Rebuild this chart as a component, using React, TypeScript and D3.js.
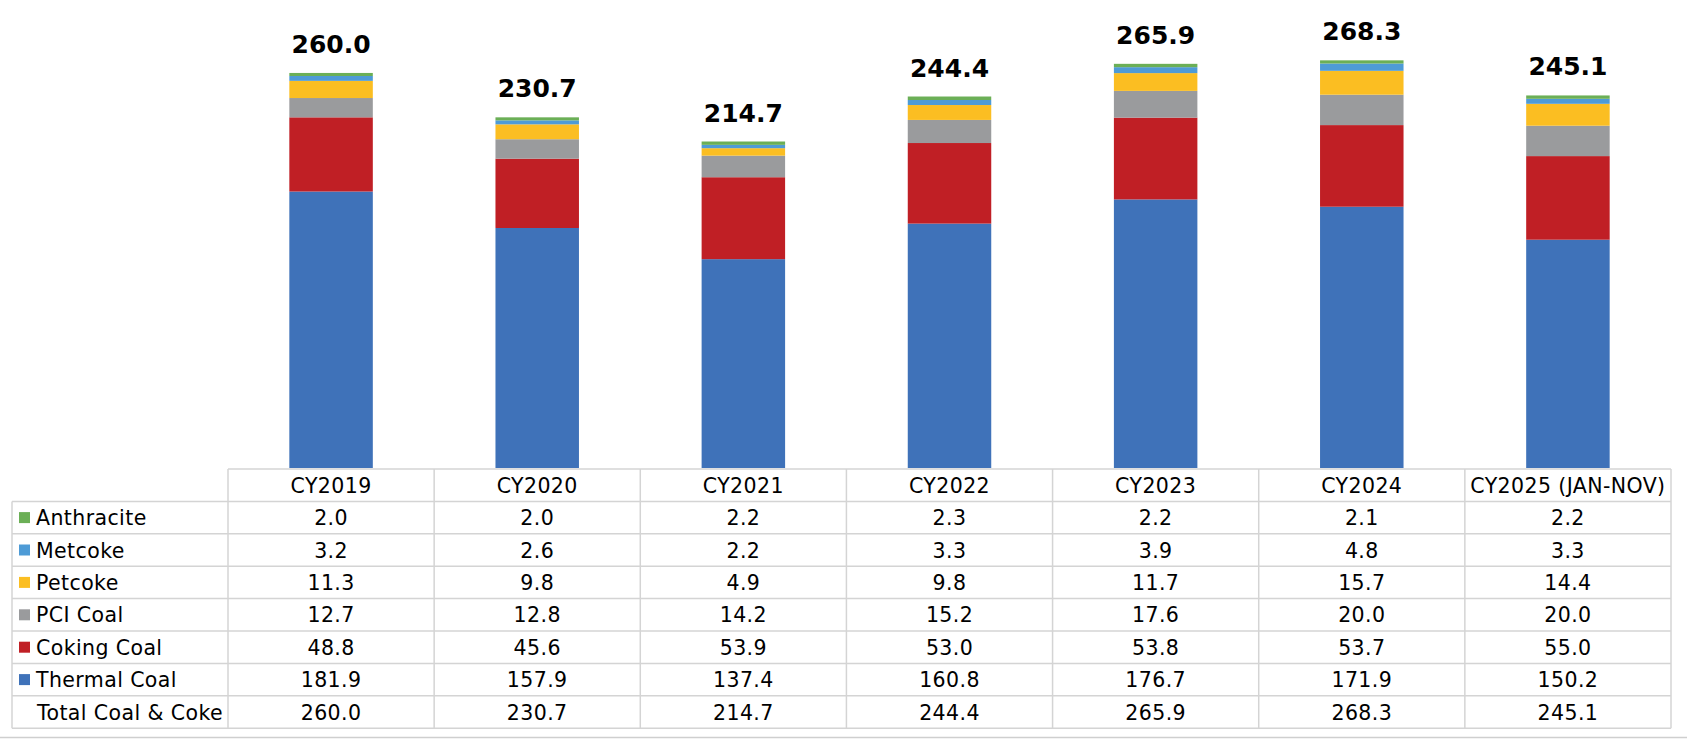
import React, { useEffect, useRef } from 'react';
import * as d3 from 'd3';

const years = ['CY2019', 'CY2020', 'CY2021', 'CY2022', 'CY2023', 'CY2024', 'CY2025 (JAN-NOV)'];
const thermalCoal = [181.9, 157.9, 137.4, 160.8, 176.7, 171.9, 150.2];
const cokingCoal = [48.8, 45.6, 53.9, 53.0, 53.8, 53.7, 55.0];
const pciCoal = [12.7, 12.8, 14.2, 15.2, 17.6, 20.0, 20.0];
const petcoke = [11.3, 9.8, 4.9, 9.8, 11.7, 15.7, 14.4];
const metcoke = [3.2, 2.6, 2.2, 3.3, 3.9, 4.8, 3.3];
const anthracite = [2.0, 2.0, 2.2, 2.3, 2.2, 2.1, 2.2];
const totals = [260.0, 230.7, 214.7, 244.4, 265.9, 268.3, 245.1];

// stacking order bottom -> top
const series = [
  { name: 'Thermal Coal', values: thermalCoal, color: '#3F72B9' },
  { name: 'Coking Coal', values: cokingCoal, color: '#C01F25' },
  { name: 'PCI Coal', values: pciCoal, color: '#9A9B9D' },
  { name: 'Petcoke', values: petcoke, color: '#FBBE22' },
  { name: 'Metcoke', values: metcoke, color: '#4E9BD6' },
  { name: 'Anthracite', values: anthracite, color: '#6BAF56' },
];

const W = 1687;
const H = 739;
const FONT = '"DejaVu Sans", Verdana, sans-serif';

const App = () => {
  const ref = useRef(null);

  useEffect(() => {
    const svg = d3.select(ref.current);
    svg.selectAll('*').remove();

    const tableLeft = 12;
    const colStart = 228;
    const colEnd = 1671;
    const tableTop = 469;
    const rowH = 32.4;

    const x = d3.scaleBand().domain(years).range([colStart, colEnd]).paddingInner(0).paddingOuter(0);
    const bw = x.bandwidth() * 0.405;
    const y = d3.scaleLinear().domain([0, 300]).range([468, 12]);

    const rows = years.map((yr, i) => {
      const r: any = { year: yr };
      series.forEach((s) => (r[s.name] = s.values[i]));
      return r;
    });
    const stack = d3.stack().keys(series.map((s) => s.name));
    const stacked = stack(rows);

    const g = svg.append('g');
    stacked.forEach((layer, li) => {
      g.selectAll(null)
        .data(layer)
        .enter()
        .append('rect')
        .attr('x', (d: any) => x(d.data.year)! + (x.bandwidth() - bw) / 2)
        .attr('width', bw)
        .attr('y', (d) => y(d[1]))
        .attr('height', (d) => y(d[0]) - y(d[1]))
        .attr('fill', series[li].color);
    });

    // total labels
    svg
      .selectAll('.tot')
      .data(totals)
      .enter()
      .append('text')
      .attr('x', (d, i) => x(years[i])! + x.bandwidth() / 2)
      .attr('y', (d) => y(d) - 20)
      .attr('text-anchor', 'middle')
      .style('font-family', FONT)
      .style('font-weight', 'bold')
      .style('font-size', '25px')
      .style('fill', '#000')
      .text((d) => d.toFixed(1));

    // table
    const gridColor = '#D4D4D4';
    const tableRows = [...series].reverse();
    const nRows = tableRows.length + 1; // + total row
    const bottom = tableTop + rowH * (nRows + 1);
    const t = svg.append('g');

    // horizontal lines
    t.append('line')
      .attr('x1', colStart).attr('x2', colEnd)
      .attr('y1', tableTop).attr('y2', tableTop)
      .attr('stroke', gridColor).attr('stroke-width', 1.5);
    for (let r = 1; r <= nRows + 1; r++) {
      const yy = tableTop + rowH * r;
      t.append('line')
        .attr('x1', tableLeft).attr('x2', colEnd)
        .attr('y1', yy).attr('y2', yy)
        .attr('stroke', gridColor).attr('stroke-width', 1.5);
    }
    // vertical lines
    t.append('line')
      .attr('x1', tableLeft).attr('x2', tableLeft)
      .attr('y1', tableTop + rowH).attr('y2', bottom)
      .attr('stroke', gridColor).attr('stroke-width', 1.5);
    [...years.map((yr) => x(yr)!), colEnd].forEach((xx) => {
      t.append('line')
        .attr('x1', xx).attr('x2', xx)
        .attr('y1', tableTop).attr('y2', bottom)
        .attr('stroke', gridColor).attr('stroke-width', 1.5);
    });

    const textStyle = (sel) =>
      sel
        .style('font-family', FONT)
        .style('font-size', '20.5px')
        .style('letter-spacing', '0.4px')
        .style('fill', '#000');

    // header
    years.forEach((yr) => {
      t.append('text')
        .attr('x', x(yr)! + x.bandwidth() / 2)
        .attr('y', tableTop + rowH / 2 + 7.5)
        .attr('text-anchor', 'middle')
        .call(textStyle)
        .text(yr);
    });

    tableRows.forEach((s, ri) => {
      const cy = tableTop + rowH * (ri + 1) + rowH / 2;
      t.append('rect')
        .attr('x', 19).attr('y', cy - 5.5)
        .attr('width', 11).attr('height', 11)
        .attr('fill', s.color);
      t.append('text')
        .attr('x', 36).attr('y', cy + 7.5)
        .call(textStyle)
        .text(s.name);
      s.values.forEach((v, i) => {
        t.append('text')
          .attr('x', x(years[i])! + x.bandwidth() / 2)
          .attr('y', cy + 7.5)
          .attr('text-anchor', 'middle')
          .call(textStyle)
          .text(v.toFixed(1));
      });
    });

    const cyT = tableTop + rowH * nRows + rowH / 2;
    t.append('text')
      .attr('x', 37).attr('y', cyT + 7.5)
      .call(textStyle)
      .text('Total Coal & Coke');
    totals.forEach((v, i) => {
      t.append('text')
        .attr('x', x(years[i])! + x.bandwidth() / 2)
        .attr('y', cyT + 7.5)
        .attr('text-anchor', 'middle')
        .call(textStyle)
        .text(v.toFixed(1));
    });

    // outer frame line at bottom
    svg.append('line')
      .attr('x1', 0).attr('x2', W)
      .attr('y1', 737.5).attr('y2', 737.5)
      .attr('stroke', '#CFCFCF').attr('stroke-width', 1.5);
  }, []);

  return (
    <svg
      ref={ref}
      width={W}
      height={H}
      style={{ position: 'absolute', left: 0, top: 0, background: '#fff' }}
    />
  );
};

export default App;
